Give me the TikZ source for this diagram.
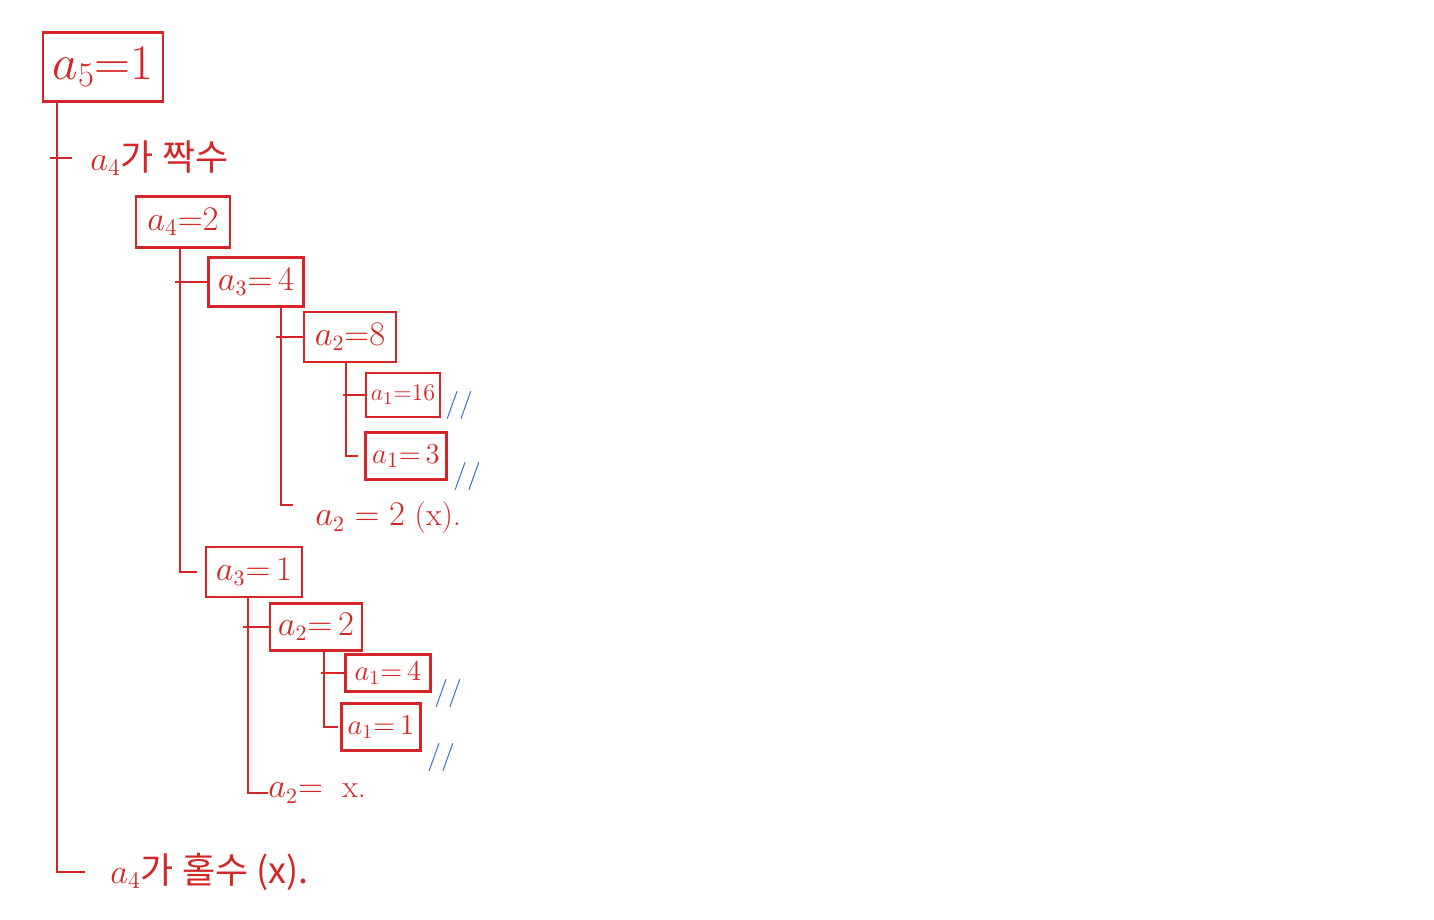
\documentclass[tikz,border=0pt]{standalone}
\usepackage{fontspec}
\newfontfamily\kr{Noto Sans CJK KR}
\definecolor{pen}{RGB}{212,38,38}
\definecolor{bpen}{RGB}{40,100,205}
\begin{document}
\begin{tikzpicture}[x=0.5pt,y=-0.5pt,
  bx/.style={draw=pen, line width=1.2pt, text=pen, inner sep=0pt},
  ln/.style={draw=pen, line width=1.2pt},
  lbl/.style={text=pen, anchor=west, inner sep=0pt},
  dbl/.style={text=bpen, inner sep=0pt, font=\sffamily\fontsize{14}{16}\selectfont}]
\useasboundingbox[fill=white] (0,0) rectangle (1434,920);

% boxes
\node[bx, minimum width=60pt, minimum height=34.5pt, font=\fontsize{24}{28}\selectfont] (a5) at (103,67) {$a_5{=}1$};
\node[bx, minimum width=47pt, minimum height=25.5pt, font=\fontsize{17}{20}\selectfont] (a4) at (183,222) {$a_4{=}2$};
\node[bx, minimum width=47.5pt, minimum height=24.5pt, font=\fontsize{16}{19}\selectfont] (a34) at (256,282) {$a_3{=}\,4$};
\node[bx, minimum width=46pt, minimum height=25pt, font=\fontsize{16}{19}\selectfont] (a28) at (350,337) {$a_2{=}8$};
\node[bx, minimum width=37pt, minimum height=22pt, font=\fontsize{12.5}{15}\selectfont] (a116) at (403,395) {$a_1{=}16$};
\node[bx, minimum width=40.5pt, minimum height=23.5pt, font=\fontsize{15}{18}\selectfont] (a13) at (406,456) {$a_1{=}\,3$};
\node[bx, minimum width=48pt, minimum height=25pt, font=\fontsize{16}{19}\selectfont] (a31) at (254,572) {$a_3{=}\,1$};
\node[bx, minimum width=46pt, minimum height=23.5pt, font=\fontsize{16}{19}\selectfont] (a22) at (316,627) {$a_2{=}\,2$};
\node[bx, minimum width=42.5pt, minimum height=18.5pt, font=\fontsize{14}{17}\selectfont] (a14) at (388,673) {$a_1{=}\,4$};
\node[bx, minimum width=39.5pt, minimum height=23.5pt, font=\fontsize{14}{17}\selectfont] (a11) at (381,727) {$a_1{=}\,1$};

% labels
\node[lbl, font=\kr\fontsize{18}{22}\selectfont] (even) at (90,158) {$a_4$가 짝수};
\node[lbl, font=\kr\fontsize{18}{22}\selectfont] (odd) at (110,872) {$a_4$가 홀수 (x).};
\node[lbl, font=\fontsize{16}{19}\selectfont] (x1) at (315,518) {$a_2 = 2$ (x).};
\node[lbl, font=\fontsize{16}{19}\selectfont] (x2) at (268,793) {$a_2{=}$ \ x.};

% blue marks
\node[dbl] (m1) at (459,405) {//};
\node[dbl] (m2) at (467,476) {//};
\node[dbl] (m3) at (448,693) {//};
\node[dbl] (m4) at (441,757) {//};

% connectors
\coordinate (r0) at (57,102);
\draw[ln] (r0) |- ([xshift=-12.5pt]odd.west);
\draw[ln] ([xshift=-3.5pt]r0 |- even.west) -- ([xshift=-9pt]even.west);

\coordinate (r1) at (180,248);
\draw[ln] (r1) |- ([xshift=-4pt]a31.west);
\draw[ln] ([xshift=-2.5pt]r1 |- a34.west) -- (a34.west);

\coordinate (r2) at (281,307);
\coordinate (e2) at (293,505);
\draw[ln] (r2) |- (e2);
\draw[ln] ([xshift=-2.5pt]r2 |- a28.west) -- (a28.west);

\coordinate (r3) at (346,362);
\draw[ln] (r3) |- ([xshift=-3pt]a13.west);
\draw[ln] ([xshift=-1.5pt]r3 |- a116.west) -- (a116.west);

\coordinate (r4) at (248,597);
\draw[ln] (r4) |- (x2.west);
\draw[ln] ([xshift=-2.5pt]r4 |- a22.west) -- (a22.west);

\coordinate (r5) at (324,650);
\draw[ln] (r5) |- ([xshift=-1pt]a11.west);
\draw[ln] ([xshift=-1.5pt]r5 |- a14.west) -- (a14.west);
\end{tikzpicture}
\end{document}
